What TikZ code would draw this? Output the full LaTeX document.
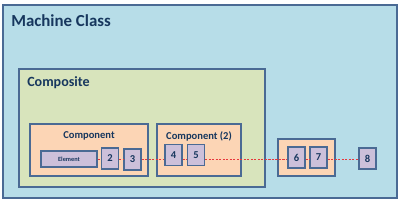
\documentclass[tikz,border=0pt]{standalone}
\usepackage{fontspec}
\setmainfont{Carlito}
\usetikzlibrary{positioning}
\definecolor{lineblue}{HTML}{4A6A94}
\definecolor{inkblue}{HTML}{17375E}
\definecolor{machfill}{HTML}{B7DDE8}
\definecolor{compfill}{HTML}{D8E4BC}
\definecolor{partfill}{HTML}{FCD5B5}
\definecolor{itemfill}{HTML}{CCC0DA}
\definecolor{linkred}{HTML}{E8383C}
\tikzset{
  frame/.style={draw=lineblue, line width=0.9pt, inner sep=0pt, anchor=center},
  item/.style={frame, fill=itemfill, text=inkblue, font=\bfseries\fontsize{7.5}{8}\selectfont,
    minimum width=0.425cm, minimum height=0.525cm},
  title/.style={text=inkblue, font=\bfseries, inner sep=0pt},
  link/.style={draw=linkred, line width=0.5pt, dash pattern=on 1.5pt off 1pt}
}
\begin{document}
\begin{tikzpicture}[x=0.025cm,y=-0.025cm]
\useasboundingbox (0,0) rectangle (400,200);
% containers
\node[frame, fill=machfill, minimum width=9.85cm, minimum height=4.825cm] (machine) at (200,101.5) {};
\node[frame, fill=compfill, minimum width=6.15cm, minimum height=2.95cm] (composite) at (142,128) {};
\node[frame, fill=partfill, minimum width=2.95cm, minimum height=1.3cm] (partA) at (89,150) {};
\node[frame, fill=partfill, minimum width=2.1cm, minimum height=1.3cm] (partB) at (199,150) {};
\node[frame, fill=partfill, minimum width=1.425cm, minimum height=0.925cm] (partC) at (306.5,157.5) {};
% titles
\node[title, anchor=base west, font=\bfseries\fontsize{12}{14}\selectfont] (machinelbl) at (11,26) {Machine Class};
\node[title, anchor=base west, font=\bfseries\fontsize{10}{12}\selectfont] (compositelbl) at (27,86) {Composite};
\node[title, font=\bfseries\fontsize{7.5}{9}\selectfont] (partAlbl) at (89,136) {Component};
\node[title, font=\bfseries\fontsize{7.5}{9}\selectfont] (partBlbl) at (199,136) {Component (2)};
% items
\node[frame, fill=itemfill, text=inkblue, font=\bfseries\fontsize{4.5}{5}\selectfont,
  minimum width=1.4cm, minimum height=0.4cm] (el) at (69,159) {Element};
\node[item] (n2) at (110,158.5) {2};
\node[item] (n3) at (132.5,159.5) {3};
\node[item] (n4) at (173.5,155) {4};
\node[item] (n5) at (196,155) {5};
\node[item] (n6) at (296.5,157.5) {6};
\node[item] (n7) at (318.5,157.5) {7};
\node[item] (n8) at (367.5,158.5) {8};
% dashed chain
\draw[link] (el.east) -- (el.east -| n2.west);
\draw[link] (n2.east |- el) -- (n3.west |- el);
\draw[link] (n3.east |- el) -- (n4.west |- el);
\draw[link] (n4.east |- el) -- (n5.west |- el);
\draw[link] (n5.east |- el) -- (n6.west |- el);
\draw[link] (n6.east |- el) -- (n7.west |- el);
\draw[link] (n7.east |- el) -- (n8.west |- el);
\end{tikzpicture}
\end{document}
